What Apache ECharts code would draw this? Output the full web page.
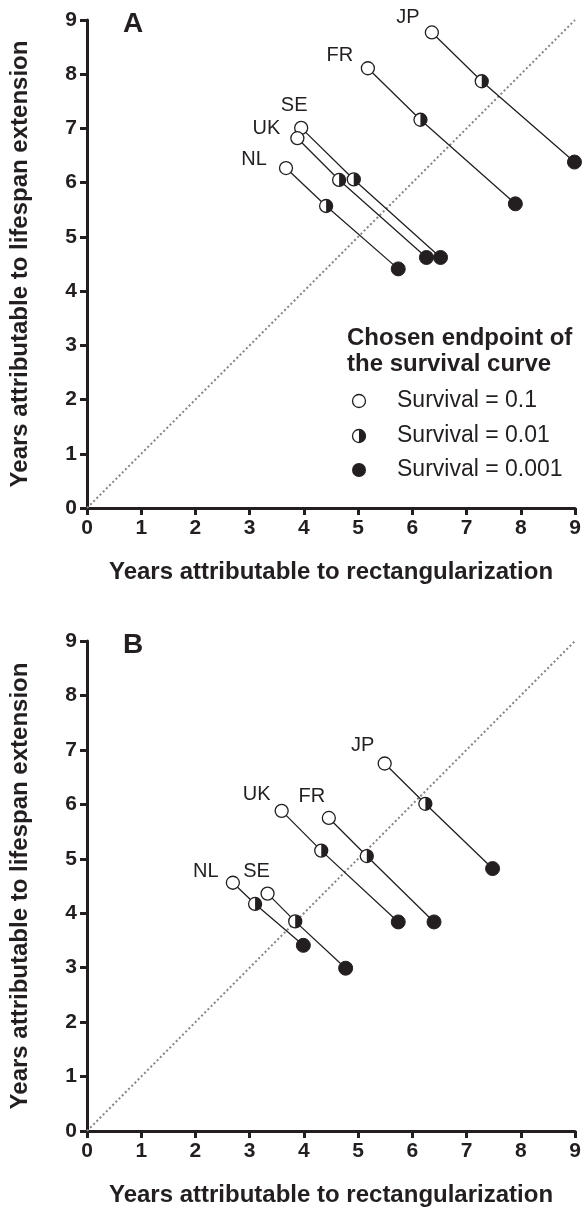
<!DOCTYPE html>
<html>
<head>
<meta charset="utf-8">
<script src="https://cdn.jsdelivr.net/npm/echarts@6/dist/echarts.min.js"></script>
<style>
  html, body { margin: 0; padding: 0; background: #fff; }
  #chart { width: 584px; height: 1215px; }
</style>
</head>
<body>
<div id="chart"></div>
<script>
// ---------- data ----------
const countries = ['JP', 'FR', 'SE', 'UK', 'NL'];
const xTicks = [0, 1, 2, 3, 4, 5, 6, 7, 8, 9];
const yTicks = [0, 1, 2, 3, 4, 5, 6, 7, 8, 9];
const panelLabels = ['A', 'B'];
const xTitle = 'Years attributable to rectangularization';
const yTitle = 'Years attributable to lifespan extension';
const legendTitle = 'Chosen endpoint of\nthe survival curve';
const legendNames = ['Survival = 0.1', 'Survival = 0.01', 'Survival = 0.001'];
const diagonal = [[0, 0], [9, 9]];

// Panel A
const A_open_x = [6.36, 5.18, 3.95, 3.88, 3.67];
const A_open_y = [8.77, 8.11, 7.01, 6.82, 6.27];
const A_half_x = [7.28, 6.15, 4.92, 4.65, 4.41];
const A_half_y = [7.87, 7.16, 6.06, 6.05, 5.57];
const A_full_x = [8.99, 7.90, 6.52, 6.26, 5.74];
const A_full_y = [6.38, 5.61, 4.62, 4.62, 4.41];

// Panel B
const B_open_x = [5.49, 4.46, 3.33, 3.59, 2.69];
const B_open_y = [6.75, 5.75, 4.36, 5.88, 4.56];
const B_half_x = [6.24, 5.16, 3.84, 4.32, 3.10];
const B_half_y = [6.01, 5.05, 3.85, 5.15, 4.17];
const B_full_x = [7.48, 6.40, 4.77, 5.74, 3.99];
const B_full_y = [4.82, 3.84, 2.99, 3.84, 3.41];

// ---------- style ----------
const INK = '#231f20';
const FONT = '"Liberation Sans", Arial, Helvetica, sans-serif';
const MARK_R = 6.5;
const labelOffsets = [
  { JP: [-24, -15], FR: [-28, -13], SE: [-7, -22], UK: [-31, -10], NL: [-32, -9] },
  { JP: [-22, -18], FR: [-17, -21], SE: [-11, -22], UK: [-25, -16], NL: [-27, -11] }
];
const grids = [
  { left: 87, top: 20, width: 488, height: 488 },
  { left: 87, top: 641, width: 488, height: 490 }
];

const panels = [
  { ox: A_open_x, oy: A_open_y, hx: A_half_x, hy: A_half_y, fx: A_full_x, fy: A_full_y },
  { ox: B_open_x, oy: B_open_y, hx: B_half_x, hy: B_half_y, fx: B_full_x, fy: B_full_y }
];

function halfRender(params, api) {
  const p = api.coord([api.value(0), api.value(1)]);
  return {
    type: 'group',
    children: [
      { type: 'circle', shape: { cx: p[0], cy: p[1], r: MARK_R },
        style: { fill: '#fff', stroke: INK, lineWidth: 1.3 } },
      { type: 'sector', shape: { cx: p[0], cy: p[1], r: MARK_R, r0: 0,
          startAngle: -Math.PI / 2, endAngle: Math.PI / 2, clockwise: true },
        style: { fill: INK } }
    ]
  };
}

const xAxes = [], yAxes = [], series = [], graphics = [];
panels.forEach((P, k) => {
  xAxes.push({
    gridIndex: k, type: 'value', min: xTicks[0], max: xTicks[xTicks.length - 1], interval: 1,
    name: xTitle, nameLocation: 'middle', nameGap: 52,
    nameTextStyle: { fontFamily: FONT, fontSize: 24, fontWeight: 'bold', color: INK },
    axisLine: { show: true, onZero: false, lineStyle: { color: INK, width: 3 } },
    axisTick: { show: true, length: 7, lineStyle: { color: INK, width: 3 } },
    axisLabel: { fontFamily: FONT, fontSize: 21, fontWeight: 'bold', color: INK, margin: 10 },
    splitLine: { show: false }
  });
  yAxes.push({
    gridIndex: k, type: 'value', min: yTicks[0], max: yTicks[yTicks.length - 1], interval: 1,
    name: yTitle, nameLocation: 'middle', nameGap: 55,
    nameTextStyle: { fontFamily: FONT, fontSize: 24, fontWeight: 'bold', color: INK },
    axisLine: { show: true, onZero: false, lineStyle: { color: INK, width: 3 } },
    axisTick: { show: true, length: 7, lineStyle: { color: INK, width: 3 } },
    axisLabel: { fontFamily: FONT, fontSize: 21, fontWeight: 'bold', color: INK, margin: 10 },
    splitLine: { show: false }
  });

  // diagonal reference
  series.push({
    type: 'line', xAxisIndex: k, yAxisIndex: k, data: diagonal, symbol: 'none', silent: true,
    lineStyle: { color: '#858585', width: 2, type: [2, 2.5] }, z: 1, animation: false
  });

  // connecting lines per country
  countries.forEach((c, i) => {
    series.push({
      type: 'line', xAxisIndex: k, yAxisIndex: k, symbol: 'none', silent: true,
      data: [[P.ox[i], P.oy[i]], [P.hx[i], P.hy[i]], [P.fx[i], P.fy[i]]],
      lineStyle: { color: INK, width: 1.3 }, z: 2, animation: false
    });
  });

  // open markers (survival 0.1) with country labels
  series.push({
    name: legendNames[0], type: 'scatter', xAxisIndex: k, yAxisIndex: k,
    symbol: 'circle', symbolSize: MARK_R * 2, z: 5, animation: false,
    itemStyle: { color: '#fff', borderColor: INK, borderWidth: 1.3, opacity: 1 },
    data: countries.map((c, i) => ({
      value: [P.ox[i], P.oy[i]],
      label: {
        show: true, formatter: c, position: 'inside', offset: labelOffsets[k][c],
        fontFamily: FONT, fontSize: 20, color: INK, opacity: 1,
        align: 'center', verticalAlign: 'middle'
      }
    }))
  });

  // half markers (survival 0.01)
  series.push({
    name: legendNames[1], type: 'custom', xAxisIndex: k, yAxisIndex: k, z: 5, animation: false,
    renderItem: halfRender,
    data: countries.map((c, i) => [P.hx[i], P.hy[i]])
  });

  // filled markers (survival 0.001)
  series.push({
    name: legendNames[2], type: 'scatter', xAxisIndex: k, yAxisIndex: k,
    symbol: 'circle', symbolSize: MARK_R * 2 + 1, z: 5, animation: false,
    itemStyle: { color: INK, borderColor: INK, borderWidth: 1, opacity: 1 },
    data: countries.map((c, i) => [P.fx[i], P.fy[i]])
  });

  // panel letter
  graphics.push({
    type: 'text', left: grids[k].left + 36, top: grids[k].top - 10,
    style: { text: panelLabels[k], fontFamily: FONT, fontSize: 28, fontWeight: 'bold', fill: INK }
  });
});

// legend (panel A)
graphics.push({
  type: 'text', left: 347, top: 325,
  style: { text: legendTitle, fontFamily: FONT, fontSize: 24, fontWeight: 'bold',
           fill: INK, lineHeight: 26 }
});
const legY = [401, 436, 470];
legY.forEach((y, i) => {
  if (i === 0) {
    graphics.push({ type: 'circle', shape: { cx: 359, cy: y, r: MARK_R },
      style: { fill: '#fff', stroke: INK, lineWidth: 1.3 } });
  } else if (i === 1) {
    graphics.push({ type: 'circle', shape: { cx: 359, cy: y, r: MARK_R },
      style: { fill: '#fff', stroke: INK, lineWidth: 1.3 } });
    graphics.push({ type: 'sector', shape: { cx: 359, cy: y, r: MARK_R, r0: 0,
      startAngle: -Math.PI / 2, endAngle: Math.PI / 2, clockwise: true }, style: { fill: INK } });
  } else {
    graphics.push({ type: 'circle', shape: { cx: 359, cy: y, r: MARK_R + 0.5 },
      style: { fill: INK } });
  }
  graphics.push({
    type: 'text', left: 397, top: y - 12,
    style: { text: legendNames[i], fontFamily: FONT, fontSize: 23, fill: INK,
             verticalAlign: 'top' }
  });
});

const chart = echarts.init(document.getElementById('chart'), null, { renderer: 'canvas' });
chart.setOption({
  backgroundColor: '#fff',
  animation: false,
  grid: grids,
  xAxis: xAxes,
  yAxis: yAxes,
  series: series,
  graphic: graphics
});
</script>
</body>
</html>
